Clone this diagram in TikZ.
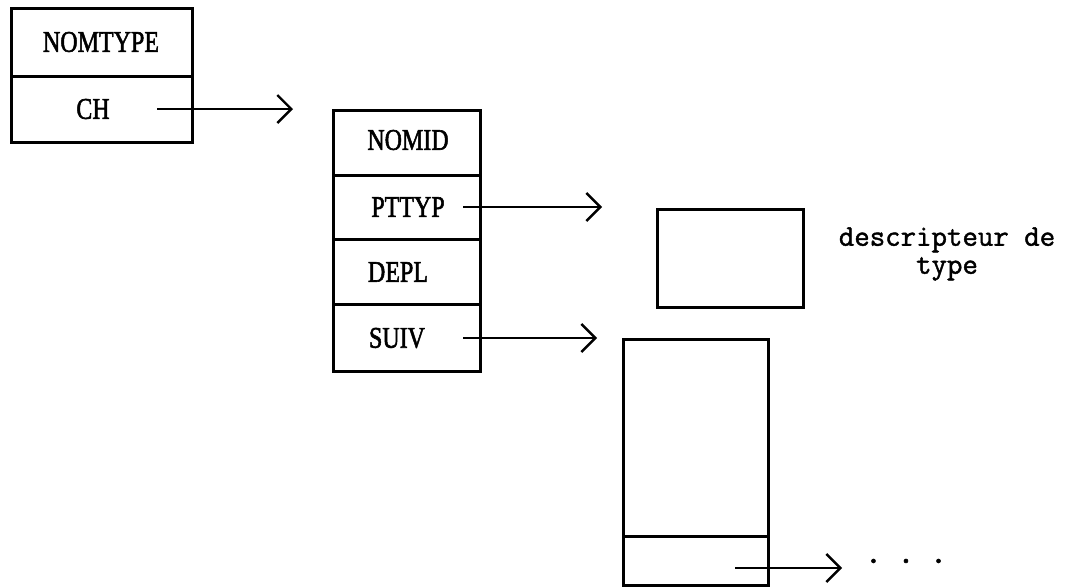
\documentclass[tikz,border=0pt]{standalone}
\usepackage{fontspec}
\setmainfont{Liberation Serif}
\newfontfamily\lblfont[FakeBold=2]{Liberation Serif}
\newfontfamily\descfont[FakeBold=1.4]{Latin Modern Mono}
\usetikzlibrary{arrows.meta}
\newcommand{\lbl}[1]{\scalebox{0.8}[1]{\fontsize{30}{32}\lblfont #1}}
\tikzset{
  cell/.style={draw, line width=3pt, rectangle, inner sep=0pt},
  ptr/.style={line width=2.2pt, -{Straight Barb[length=14pt,width=28pt,line width=2.4pt]}},
  txt/.style={inner sep=0pt, anchor=center},
  mono/.style={font=\descfont\fontsize{30}{28}\selectfont}
}
\begin{document}
\begin{tikzpicture}[x=1pt,y=-1pt]
\useasboundingbox (0,0) rectangle (1076,587);
% box 1
\node[cell, minimum width=181pt, minimum height=68pt] (nomtype) at (101.5,42) {};
\node[cell, minimum width=181pt, minimum height=66pt] (ch) at (101.5,109) {};
\node[txt] (tnomtype) at (101,42) {\lbl{NOMTYPE}};
\node[txt] (tch) at (93,109) {\lbl{CH}};
% box 2
\node[cell, minimum width=147pt, minimum height=65pt] (nomid) at (406.5,142.5) {};
\node[cell, minimum width=147pt, minimum height=64pt] (pttyp) at (406.5,207) {};
\node[cell, minimum width=147pt, minimum height=65pt] (depl) at (406.5,271.5) {};
\node[cell, minimum width=147pt, minimum height=67pt] (suiv) at (406.5,337.5) {};
\node[txt] (tnomid) at (408,140) {\lbl{NOMID}};
\node[txt] (tpttyp) at (408,207) {\lbl{PTTYP}};
\node[txt] (tdepl) at (398,272) {\lbl{DEPL}};
\node[txt] (tsuiv) at (397,338) {\lbl{SUIV}};
% descriptor box
\node[cell, minimum width=146pt, minimum height=98pt] (desc) at (730,258) {};
\node[txt, align=center, mono] (tdesc) at (947,254) {descripteur de\\type};
% big box
\node[cell, minimum width=145pt, minimum height=197pt] (big) at (695.5,437.5) {};
\node[cell, minimum width=145pt, minimum height=49pt] (bigbot) at (695.5,560.5) {};
\node[inner sep=0pt, anchor=base, font=\descfont\fontsize{36}{36}\selectfont] (dots) at (906,563) {.\hspace{14pt}.\hspace{14pt}.};
% arrow ends
\coordinate (s1) at (157,109);
\coordinate (e1) at (293,109);
\coordinate (s2) at (463,207);
\coordinate (e2) at (602,207);
\coordinate (s3) at (463,338);
\coordinate (e3) at (597,338);
\coordinate (s4) at (735,568);
\coordinate (e4) at (842,568);
\draw[ptr] (s1) -- (e1);
\draw[ptr] (s2) -- (e2);
\draw[ptr] (s3) -- (e3);
\draw[ptr] (s4) -- (e4);
\end{tikzpicture}
\end{document}
